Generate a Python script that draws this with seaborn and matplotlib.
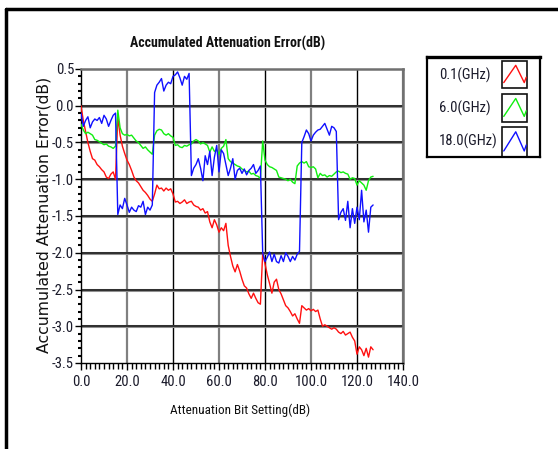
import matplotlib
matplotlib.use('Agg')
import numpy as np
import pandas as pd
import matplotlib.pyplot as plt
import seaborn as sns
from matplotlib.ticker import MultipleLocator, FixedLocator, FixedFormatter
from matplotlib.lines import Line2D
from matplotlib.patches import Rectangle
from matplotlib import font_manager

# ---------------- data ----------------
attenuation_db = list(range(0, 128))

err_0p1ghz = [0.0, -0.20, -0.35, -0.50, -0.62, -0.72, -0.74, -0.80, -0.83, -0.87,
              -0.90, -0.97, -0.99, -0.93, -0.90, -1.00, -0.15, -0.40, -0.55, -0.65,
              -0.74, -0.80, -0.88, -0.97, -1.02, -1.05, -1.10, -1.15, -1.18, -1.22,
              -1.27, -1.30, -1.20, -1.08, -1.13, -1.12, -1.16, -1.12, -1.15, -1.13,
              -1.20, -1.31, -1.30, -1.33, -1.31, -1.28, -1.33, -1.31, -1.30, -1.35,
              -1.37, -1.38, -1.42, -1.40, -1.46, -1.44, -1.58, -1.66, -1.55, -1.62,
              -1.72, -1.66, -1.70, -1.60, -1.90, -2.05, -2.18, -2.26, -2.16, -2.25,
              -2.36, -2.45, -2.48, -2.56, -2.62, -2.55, -2.62, -2.68, -2.70, -2.00,
              -2.15, -2.30, -2.42, -2.55, -2.40, -2.36, -2.50, -2.56, -2.64, -2.72,
              -2.75, -2.80, -2.86, -2.83, -2.90, -2.96, -2.72, -2.75, -2.78, -2.76,
              -2.79, -2.77, -2.80, -2.78, -2.90, -3.00, -2.98, -3.00, -3.02, -3.04,
              -3.02, -3.04, -3.08, -3.10, -3.07, -3.12, -3.10, -3.08, -3.15, -3.20,
              -3.38, -3.28, -3.32, -3.40, -3.30, -3.42, -3.28, -3.32]

err_6ghz = [-0.25, -0.33, -0.38, -0.36, -0.38, -0.40, -0.46, -0.47, -0.49, -0.51,
            -0.53, -0.52, -0.55, -0.56, -0.58, -0.55, -0.06, -0.30, -0.38, -0.40,
            -0.39, -0.41, -0.40, -0.44, -0.48, -0.50, -0.54, -0.58, -0.56, -0.60,
            -0.63, -0.66, -0.40, -0.34, -0.32, -0.33, -0.38, -0.40, -0.38, -0.41,
            -0.43, -0.54, -0.53, -0.56, -0.57, -0.54, -0.55, -0.53, -0.52, -0.48,
            -0.46, -0.48, -0.52, -0.50, -0.52, -0.54, -0.63, -0.56, -0.62, -0.60,
            -0.66, -0.58, -0.55, -0.46, -0.72, -0.76, -0.78, -0.80, -0.82, -0.83,
            -0.86, -0.88, -0.90, -0.89, -0.93, -0.92, -0.95, -0.96, -0.99, -0.48,
            -0.74, -0.80, -0.83, -0.84, -0.86, -0.88, -0.97, -0.98, -0.99, -1.00,
            -1.02, -1.00, -1.04, -1.06, -0.82, -0.78, -0.76, -0.78, -0.76, -0.83,
            -0.84, -0.83, -0.86, -0.98, -0.92, -0.95, -0.94, -0.97, -0.95, -0.96,
            -0.93, -0.90, -0.89, -0.91, -0.90, -0.92, -0.93, -1.00, -0.98, -0.99,
            -1.08, -1.02, -1.05, -1.08, -1.15, -1.02, -0.97, -0.96]

err_18ghz = [-0.10, -0.28, -0.20, -0.15, -0.30, -0.22, -0.18, -0.20, -0.16, -0.24,
             -0.13, -0.18, -0.28, -0.20, -0.13, -0.10, -1.48, -1.35, -1.40, -1.26,
             -1.35, -1.45, -1.38, -1.42, -1.44, -1.36, -1.38, -1.30, -1.48, -1.38,
             -1.42, -1.35, 0.18, 0.28, 0.32, 0.37, 0.20, 0.28, 0.32, 0.30,
             0.40, 0.42, 0.46, 0.38, 0.28, 0.40, 0.36, 0.44, -0.95, -0.85,
             -0.80, -0.72, -0.85, -1.02, -0.68, -0.80, -0.62, -0.95, -0.70, -0.54,
             -0.90, -0.60, -0.65, -0.80, -0.95, -0.85, -0.72, -1.00, -0.88, -0.85,
             -0.92, -0.86, -0.94, -0.88, -0.85, -0.80, -0.92, -0.88, -0.82, -2.00,
             -2.12, -2.06, -1.99, -2.12, -2.02, -2.12, -2.14, -2.04, -2.12, -2.00,
             -2.05, -2.12, -2.05, -2.10, -2.02, -1.98, -0.50, -0.42, -0.33, -0.38,
             -0.48, -0.40, -0.36, -0.33, -0.32, -0.28, -0.24, -0.32, -0.40, -0.28,
             -0.30, -0.35, -1.55, -1.45, -1.40, -1.56, -1.30, -1.66, -1.40, -1.60,
             -1.38, -1.55, -1.15, -1.58, -1.42, -1.72, -1.38, -1.35]

series_names = ['0.1(GHz)', '6.0(GHz)', '18.0(GHz)']
series_colors = ['#ff1010', '#10ee10', '#1010ff']

x_ticks = [0, 20, 40, 60, 80, 100, 120, 140]
x_tick_labels = ['0.0', '20.0', '40.0', '60.0', '80.0', '100.0', '120.0', '140.0']
y_ticks = [-3.5, -3.0, -2.5, -2.0, -1.5, -1.0, -0.5, 0.0, 0.5]
y_tick_labels = ['-3.5', '-3.0', '-2.5', '-2.0', '-1.5', '-1.0', '-0.5', '0.0', '0.5']

title_text = 'Accumulated Attenuation Error(dB)'
xlabel_text = 'Attenuation Bit Setting(dB)'
ylabel_text = 'Accumulated Attenuation Error(dB)'

# ---------------- style ----------------
sns.set_style('white')
names = {f.name for f in font_manager.fontManager.ttflist}
preferred = ['Roboto Condensed', 'Liberation Sans Narrow', 'Archivo Narrow',
             'Asap Condensed', 'Liberation Sans']
narrow = next((n for n in preferred if n in names), 'DejaVu Sans')
plt.rcParams['font.family'] = [narrow, 'DejaVu Sans']

W, H = 558, 449
fig = plt.figure(figsize=(W / 100, H / 100), dpi=100)
fig.patch.set_facecolor('white')

def fx(px):
    return px / W

def fy(py):
    return 1 - py / H

ax_l, ax_r, ax_t, ax_b = 81, 403, 69, 363
ax = fig.add_axes([fx(ax_l), fy(ax_b), fx(ax_r) - fx(ax_l), (ax_b - ax_t) / H])

df = pd.DataFrame({
    'x': attenuation_db * 3,
    'err': err_0p1ghz + err_6ghz + err_18ghz,
    'series': [series_names[0]] * len(attenuation_db)
              + [series_names[1]] * len(attenuation_db)
              + [series_names[2]] * len(attenuation_db),
})

sns.lineplot(data=df, x='x', y='err', hue='series', hue_order=series_names,
             palette=series_colors, linewidth=1.0, legend=False, ax=ax,
             estimator=None, sort=False, zorder=5)

ax.set_xlim(0, 140)
ax.set_ylim(-3.5, 0.5)
ax.set_xlabel('')
ax.set_ylabel('')

for i, xv in enumerate(x_ticks[1:], start=1):
    if i % 2 == 1:
        ax.axvline(xv, color='#808080', lw=1.6, zorder=1)
    else:
        ax.axvline(xv, color='#000000', lw=1.0, zorder=1)
for yv in y_ticks[1:-1]:
    ax.axhline(yv, color='#909090', lw=2.2, zorder=1)
    ax.axhline(yv, color='#151515', lw=1.1, zorder=1)

for s in ['left', 'bottom']:
    ax.spines[s].set_color('black')
    ax.spines[s].set_linewidth(1.0)
for s in ['top', 'right']:
    ax.spines[s].set_color('#707070')
    ax.spines[s].set_linewidth(1.8)

ax.xaxis.set_major_locator(FixedLocator(x_ticks))
ax.xaxis.set_major_formatter(FixedFormatter(x_tick_labels))
ax.yaxis.set_major_locator(FixedLocator(y_ticks))
ax.yaxis.set_major_formatter(FixedFormatter(y_tick_labels))
ax.xaxis.set_minor_locator(MultipleLocator(2))
ax.yaxis.set_minor_locator(MultipleLocator(0.1))

tick_fs = 10.5
ax.tick_params(axis='both', which='both', direction='out', colors='black',
               bottom=True, left=True, top=False, right=False)
ax.tick_params(axis='x', which='major', length=5, width=1, pad=4, labelsize=tick_fs,
               labelcolor='#1a1a2a')
ax.tick_params(axis='x', which='minor', length=4, width=1)
ax.tick_params(axis='y', which='major', length=4, width=1, pad=1, labelsize=tick_fs,
               labelcolor='#1a1a2a')
ax.tick_params(axis='y', which='minor', length=2, width=1.5)

fig.text(fx(228), fy(43), title_text, ha='center', va='center',
         fontsize=10, fontweight='bold', color='#111111')
fig.text(fx(240), fy(410), xlabel_text, ha='center', va='center',
         fontsize=9.5, color='#111111')
fig.text(fx(44), fy(215), ylabel_text, ha='center', va='center', rotation=90,
         fontsize=11.3, color='#111111', family=['DejaVu Sans'])

lg_l, lg_r, lg_t, lg_b = 427, 540, 57, 157
lax = fig.add_axes([fx(lg_l), fy(lg_b), fx(lg_r) - fx(lg_l), (lg_b - lg_t) / H])
lax.set_xlim(lg_l, lg_r)
lax.set_ylim(lg_b, lg_t)
lax.set_xticks([])
lax.set_yticks([])
for s in lax.spines.values():
    s.set_color('black')
    s.set_linewidth(1.6)
lax.spines['top'].set_linewidth(2.4)

box_rows = [(61, 88), (94, 122), (127, 157)]
text_y = [75, 108, 141]
zig_fx = [0.07, 0.55, 0.89, 0.97]
zig_fy = [0.80, 0.16, 0.80, 0.60]
for name, color, (top, bot), ty in zip(series_names, series_colors, box_rows, text_y):
    lax.add_patch(Rectangle((502, top), 25, bot - top, fill=False,
                            edgecolor='#111111', lw=1.2))
    zx = [502 + f * 25 for f in zig_fx]
    zy = [top + f * (bot - top) for f in zig_fy]
    lax.plot(zx, zy, color=color, lw=1.0)
    lax.text(439, ty, name, ha='left', va='center', fontsize=tick_fs, color='#1a1a2a')

fig.add_artist(Line2D([fx(6), 1.0], [fy(9), fy(9)], color='black', lw=2.5))
fig.add_artist(Line2D([fx(6), fx(6)], [fy(9), 0.0], color='black', lw=2.5))

fig.savefig('out.png', dpi=100, facecolor='white')
